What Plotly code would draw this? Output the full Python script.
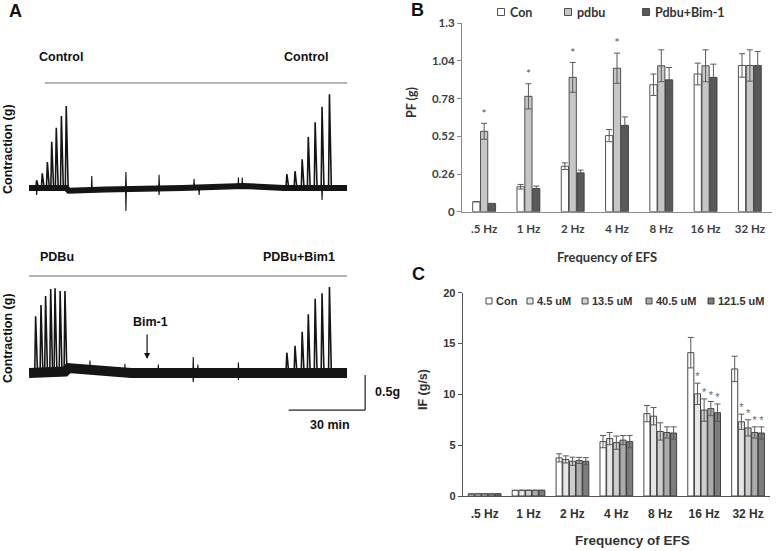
import plotly.graph_objects as go

W, H = 778, 551


def px(x):
    return x / W


def py(y):
    return 1 - y / H


# ---------------- Panel A data (time in min, force in g) ----------------
top_base_t = [0, 14.6, 15.6, 30, 60, 80, 84, 100, 124.7]
top_base_y = [0, 0, -0.04, -0.02, 0.0, 0.02, 0.03, 0.0, 0.0]
top_spike_t = [3.0, 5.2, 7.2, 8.9, 10.7, 12.7, 14.6, 101.1, 104.3, 107.1, 109.5, 112.2, 114.9, 117.8]
top_spike_amp = [0.11, 0.21, 0.37, 0.66, 0.86, 1.03, 1.17, 0.20, 0.24, 0.41, 0.73, 0.94, 1.16, 1.34]
top_art_t = [3.0, 24.6, 38.0, 38.0, 51.0, 51.0, 64.7, 66.7, 82.1, 83.6, 114.9]
top_art_amp = [-0.1, 0.17, 0.23, -0.33, 0.19, -0.1, 0.13, -0.1, 0.15, 0.15, -0.17]

bot_base_t = [0, 14.1, 15.5, 25, 40, 124.7]
bot_base_y = [0, 0.02, 0.07, 0.04, 0.0, 0.0]
bot_spike_t = [2.6, 4.7, 6.5, 8.5, 10.2, 12.2, 14.1, 101.1, 104.3, 107.1, 109.5, 112.2, 114.9, 117.8]
bot_spike_amp = [0.81, 0.97, 1.10, 1.20, 1.21, 1.17, 1.17, 0.29, 0.39, 0.59, 0.84, 1.06, 1.14, 1.23]
bot_art_t = [23.9, 37.6, 50.7, 64.4, 64.4, 66.2, 82.1, 82.1]
bot_art_amp = [0.18, 0.13, 0.12, 0.23, -0.13, 0.12, 0.15, -0.1]

bim_arrow_t = 46.3
scale_g = 0.5
scale_min = 30

# ---------------- Panel B data ----------------
freqs = [".5 Hz", "1 Hz", "2 Hz", "4 Hz", "8 Hz", "16 Hz", "32 Hz"]
b_names = ["Con", "pdbu", "Pdbu+Bim-1"]
b_con = [0.069, 0.172, 0.314, 0.525, 0.876, 0.95, 1.009]
b_con_err = [0.0, 0.016, 0.023, 0.042, 0.074, 0.075, 0.081]
b_pdbu = [0.555, 0.796, 0.927, 0.99, 1.007, 1.007, 1.009]
b_pdbu_err = [0.055, 0.087, 0.103, 0.104, 0.11, 0.11, 0.108]
b_bim = [0.057, 0.16, 0.268, 0.596, 0.91, 0.927, 1.009]
b_bim_err = [0.0, 0.017, 0.019, 0.058, 0.085, 0.091, 0.096]
b_star_pdbu = [True, True, True, True, False, False, False]
b_ticks = [0, 0.26, 0.52, 0.78, 1.04, 1.3]
b_ticktext = ["0", "0.26", "0.52", "0.78", "1.04", "1.3"]

# ---------------- Panel C data ----------------
c_names = ["Con", "4.5 uM", "13.5 uM", "40.5 uM", "121.5 uM"]
c_con = [0.2, 0.55, 3.75, 5.35, 8.1, 14.1, 12.5]
c_con_err = [0.0, 0.0, 0.4, 0.6, 0.8, 1.5, 1.25]
c_45 = [0.22, 0.56, 3.6, 5.65, 7.85, 10.05, 7.3]
c_45_err = [0.0, 0.0, 0.35, 0.6, 0.85, 1.05, 0.75]
c_135 = [0.22, 0.56, 3.42, 5.25, 6.35, 8.45, 6.7]
c_135_err = [0.0, 0.0, 0.4, 0.65, 0.85, 1.1, 0.8]
c_405 = [0.22, 0.56, 3.5, 5.5, 6.25, 8.6, 6.25]
c_405_err = [0.0, 0.0, 0.3, 0.45, 0.55, 0.7, 0.55]
c_1215 = [0.22, 0.56, 3.42, 5.35, 6.2, 8.2, 6.2]
c_1215_err = [0.0, 0.0, 0.35, 0.6, 0.6, 0.85, 0.6]
c_stars = [  # per series: which frequencies carry an asterisk
    [False] * 7,
    [False, False, False, False, False, True, True],
    [False, False, False, False, False, True, True],
    [False, False, False, False, False, True, True],
    [False, False, False, False, False, True, True],
]
c_ticks = [0, 5, 10, 15, 20]

# ---------------- styles ----------------
b_colors = ["#ffffff", "#c6c6c6", "#595959"]
c_colors = ["#ffffff", "#e6e6e6", "#cdcdcd", "#ababab", "#7d7d7d"]
ARIAL = "Liberation Sans"
CAL = "Lato"
trace_col = "#151515"

fig = go.Figure()


def spike_path(ts, amps, rise, fall):
    xs, ys = [], []
    for t, a in zip(ts, amps):
        xs += [t - rise, t, t + fall, None]
        ys += [0, a, 0, None]
    return xs, ys


# ---- Panel A traces ----
for (bt, by, st, sa, at, aa, ax, ay, bw) in [
    (top_base_t, top_base_y, top_spike_t, top_spike_amp, top_art_t, top_art_amp, "x3", "y3", 6),
    (bot_base_t, bot_base_y, bot_spike_t, bot_spike_amp, bot_art_t, bot_art_amp, "x4", "y4", 10),
]:
    fig.add_trace(go.Scatter(x=bt, y=by, mode="lines", xaxis=ax, yaxis=ay,
                             line=dict(color=trace_col, width=bw), showlegend=False, hoverinfo="skip"))
    sx, sy = spike_path(st, sa, 0.35, 0.75)
    fig.add_trace(go.Scatter(x=sx, y=sy, mode="lines", xaxis=ax, yaxis=ay,
                             line=dict(color=trace_col, width=1.6), showlegend=False, hoverinfo="skip"))
    axx, axy = spike_path(at, aa, 0.15, 0.2)
    fig.add_trace(go.Scatter(x=axx, y=axy, mode="lines", xaxis=ax, yaxis=ay,
                             line=dict(color=trace_col, width=1.1), showlegend=False, hoverinfo="skip"))

# ---- Panel B bars ----
xi = list(range(len(freqs)))
b_vals = [b_con, b_pdbu, b_bim]
b_errs = [b_con_err, b_pdbu_err, b_bim_err]
BW_B, GAP_B = 0.163, 0.014
b_start = -(3 * BW_B + 2 * GAP_B) / 2
for j in range(3):
    off = b_start + j * (BW_B + GAP_B)
    fig.add_trace(go.Bar(
        x=xi, y=b_vals[j], width=BW_B, offset=off, xaxis="x", yaxis="y",
        marker=dict(color=b_colors[j], line=dict(color="#3f3f3f", width=0.9)),
        error_y=dict(type="data", array=b_errs[j], visible=True, color="#595959", thickness=1, width=3),
        showlegend=False, hoverinfo="skip"))
    if j == 1:
        sx = [i + off + BW_B / 2 for i in xi if b_star_pdbu[i]]
        sy = [b_vals[j][i] + b_errs[j][i] + 0.06 for i in xi if b_star_pdbu[i]]
        fig.add_trace(go.Scatter(x=sx, y=sy, mode="text", text=["*"] * len(sx), xaxis="x", yaxis="y",
                                 textfont=dict(family=CAL, size=12, color="#555555"),
                                 showlegend=False, hoverinfo="skip"))

# ---- Panel C bars ----
c_vals = [c_con, c_45, c_135, c_405, c_1215]
c_errs = [c_con_err, c_45_err, c_135_err, c_405_err, c_1215_err]
BW_C, GAP_C = 0.138, 0.014
c_start = -(5 * BW_C + 4 * GAP_C) / 2
for j in range(5):
    off = c_start + j * (BW_C + GAP_C)
    fig.add_trace(go.Bar(
        x=xi, y=c_vals[j], width=BW_C, offset=off, xaxis="x2", yaxis="y2",
        marker=dict(color=c_colors[j], line=dict(color="#333333", width=0.9)),
        error_y=dict(type="data", array=c_errs[j], visible=True, color="#595959", thickness=1, width=3),
        showlegend=False, hoverinfo="skip"))
    sx = [i + off + BW_C / 2 for i in xi if c_stars[j][i]]
    sy = [c_vals[j][i] + c_errs[j][i] + 0.55 for i in xi if c_stars[j][i]]
    if sx:
        fig.add_trace(go.Scatter(x=sx, y=sy, mode="text", text=["*"] * len(sx), xaxis="x2", yaxis="y2",
                                 textfont=dict(family=ARIAL, size=11, color="#666666"),
                                 showlegend=False, hoverinfo="skip"))

# ---------------- axes ----------------
A_T0, A_T1 = 0, 133.7
fig.update_layout(
    width=W, height=H, margin=dict(l=0, r=0, t=0, b=0, autoexpand=False),
    paper_bgcolor="white", plot_bgcolor="white", barmode="overlay", showlegend=False,
    xaxis=dict(domain=[px(462), px(772)], range=[-0.5, 6.5], tickvals=xi, ticktext=freqs, anchor="y",
               ticklabelstandoff=6,
               showline=True, linecolor="#8c8c8c", linewidth=1, ticks="", showgrid=False, zeroline=False,
               automargin=False,
               tickfont=dict(family=CAL, size=11.5, color="#404040", weight="bold"), fixedrange=True),
    yaxis=dict(domain=[py(211.7), py(23.3)], range=[0, 1.3], tickvals=b_ticks, ticktext=b_ticktext, anchor="x",
               showline=True, linecolor="#8c8c8c", linewidth=1, ticks="outside", ticklen=4,
               tickcolor="#8c8c8c", showgrid=False, zeroline=False, automargin=False,
               tickfont=dict(family=CAL, size=11.5, color="#404040", weight="bold"), fixedrange=True),
    xaxis2=dict(domain=[px(462.7), px(770)], range=[-0.5, 6.5], tickvals=xi, ticktext=freqs, anchor="y2",
                ticklabelstandoff=7,
                showline=True, linecolor="#555555", linewidth=1, ticks="", showgrid=False, zeroline=False,
                automargin=False,
                tickfont=dict(family=ARIAL, size=12, color="#333333", weight="bold"), fixedrange=True),
    yaxis2=dict(domain=[py(496), py(292.7)], range=[0, 20], tickvals=c_ticks, anchor="x2",
                showline=True, linecolor="#555555", linewidth=1, ticks="outside", ticklen=4,
                tickcolor="#555555", showgrid=False, zeroline=False, automargin=False,
                tickfont=dict(family=ARIAL, size=11, color="#333333", weight="bold"), fixedrange=True),
    xaxis3=dict(domain=[px(29), px(370)], range=[A_T0, A_T1], visible=False, fixedrange=True, anchor="y3"),
    yaxis3=dict(domain=[py(230), py(83)], range=[-0.6, 1.5], visible=False, fixedrange=True, anchor="x3"),
    xaxis4=dict(domain=[px(29), px(370)], range=[A_T0, A_T1], visible=False, fixedrange=True, anchor="y4"),
    yaxis4=dict(domain=[py(429), py(268)], range=[-0.8, 1.5], visible=False, fixedrange=True, anchor="x4"),
)

shapes = []
annots = []


def txt(x, y, s, size, fam=ARIAL, xanchor="center", color="#111111", angle=0, bold=True):
    annots.append(dict(x=px(x), y=py(y), xref="paper", yref="paper", text=s, showarrow=False,
                       xanchor=xanchor, yanchor="middle", textangle=angle,
                       font=dict(family=fam, size=size, color=color, weight="bold" if bold else "normal")))


# Panel A decorations
shapes.append(dict(type="line", xref="paper", yref="paper", x0=px(45), x1=px(347), y0=py(83), y1=py(83),
                   line=dict(color="#6a6a6a", width=1.2)))
shapes.append(dict(type="line", xref="paper", yref="paper", x0=px(29), x1=px(347), y0=py(276), y1=py(276),
                   line=dict(color="#6a6a6a", width=1.2)))
# scale bars (data units of lower trace)
sb_t = A_T1 - 1.9
shapes.append(dict(type="line", xref="x4", yref="y4", x0=sb_t, x1=sb_t, y0=-0.53, y1=-0.53 + scale_g,
                   line=dict(color="#222222", width=1.2)))
shapes.append(dict(type="line", xref="x4", yref="y4", x0=sb_t - scale_min, x1=sb_t, y0=-0.53, y1=-0.53,
                   line=dict(color="#222222", width=1.2)))
annots.append(dict(x=bim_arrow_t, y=0.2, ax=bim_arrow_t, ay=0.57, xref="x4", yref="y4", axref="x4", ayref="y4",
                   text="", showarrow=True, arrowhead=2, arrowsize=1, arrowwidth=1.2, arrowcolor="#111111"))

txt(16, 11, "A", 18)
txt(61, 57, "Control", 12.5)
txt(306, 57, "Control", 12.5)
txt(57, 257, "PDBu", 12.5)
txt(299, 257, "PDBu+Bim1", 12.5)
txt(150, 322, "Bim-1", 12.5)
txt(387, 392, "0.5g", 12.5)
txt(330, 425, "30 min", 12.5)
txt(8, 149, "Contraction (g)", 12.5, angle=-90)
txt(8, 338, "Contraction (g)", 12.5, angle=-90)

# Panel B decorations
txt(417, 10, "B", 18)
txt(412, 103, "PF (g)", 12.5, fam=CAL, angle=-90, color="#333333")
txt(607, 257, "Frequency of EFS", 13, fam=CAL, color="#333333")
b_leg_sq = [501, 568, 646]
for j in range(3):
    shapes.append(dict(type="rect", xref="paper", yref="paper", x0=px(b_leg_sq[j] - 3.5), x1=px(b_leg_sq[j] + 3.5),
                       y0=py(15.5), y1=py(8.5), fillcolor=b_colors[j], line=dict(color="#3f3f3f", width=0.9)))
    txt(b_leg_sq[j] + 7, 12, b_names[j], 12.5, fam=CAL, xanchor="left", color="#333333")

# Panel C decorations
txt(418, 274, "C", 18)
txt(423, 390, "IF (g/s)", 12.5, angle=-90, color="#333333")
txt(632, 540, "Frequency of EFS", 13.5, color="#333333")
c_leg_sq = [489, 530, 585, 649, 711]
for j in range(5):
    shapes.append(dict(type="rect", xref="paper", yref="paper", x0=px(c_leg_sq[j] - 3), x1=px(c_leg_sq[j] + 3),
                       y0=py(304), y1=py(298), fillcolor=c_colors[j], line=dict(color="#333333", width=0.9)))
    txt(c_leg_sq[j] + 5, 301, c_names[j], 11, xanchor="left", color="#333333")

fig.update_layout(shapes=shapes, annotations=annots)
fig.write_html("out.html", config={"displayModeBar": False},
               post_script="document.body.style.margin='0';document.body.style.overflow='hidden';")
